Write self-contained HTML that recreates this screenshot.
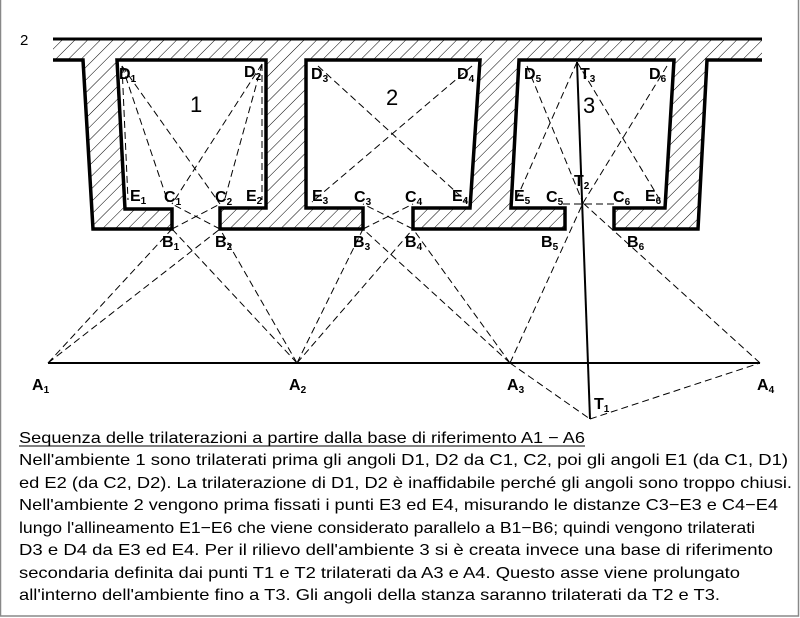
<!DOCTYPE html>
<html><head><meta charset="utf-8"><style>
html,body{margin:0;padding:0;background:#fff;}
svg{display:block;}
.lb{font-family:"Liberation Sans",sans-serif;font-weight:bold;font-size:16px;fill:#000;}
.sb{font-size:10px;}
.tx{font-family:"Liberation Sans",sans-serif;font-size:16px;fill:#000;}
</style></head><body>
<svg width="800" height="618" viewBox="0 0 800 618" xmlns="http://www.w3.org/2000/svg">
<defs>
<pattern id="h" patternUnits="userSpaceOnUse" width="9" height="9" patternTransform="rotate(45)">
<line x1="0" y1="0" x2="0" y2="9" stroke="#000" stroke-width="1"/>
</pattern>
</defs>
<rect x="0.5" y="-2" width="798" height="618" fill="none" stroke="#888" stroke-width="1.5"/>
<text x="20" y="45" class="tx" style="font-size:15px">2</text>
<path d="M53,39 L762,39 L762,60 L707,60 L698,229 L614,229 L614,208 L665,208 L674,60 L519,60 L511,208 L565,208 L565,229 L413,229 L413,208 L470,208 L480,60 L306,60 L306,208 L363,208 L363,229 L220,229 L220,208 L266,208 L266,60 L117,60 L125,209 L172,209 L172,229 L93,229 L83,60 L53,60 Z" fill="url(#h)" stroke="none"/>
<line x1="53" y1="39" x2="762" y2="39" stroke="#000" stroke-width="3"/>
<polyline points="762,60 707,60 698,229 614,229 614,208 665,208 674,60 519,60 511,208 565,208 565,229 413,229 413,208 470,208 480,60 306,60 306,208 363,208 363,229 220,229 220,208 266,208 266,60 117,60 125,209 172,209 172,229 93,229 83,60 53,60" fill="none" stroke="#000" stroke-width="3.5" stroke-linejoin="miter"/>
<g stroke="#000" stroke-width="1" stroke-dasharray="7,4" fill="none">
<line x1="48" y1="363" x2="172" y2="229"/>
<line x1="48" y1="363" x2="220" y2="229"/>
<line x1="297" y1="363" x2="172" y2="229"/>
<line x1="297" y1="363" x2="220" y2="229"/>
<line x1="297" y1="363" x2="363" y2="229"/>
<line x1="297" y1="363" x2="413" y2="229"/>
<line x1="510" y1="363" x2="363" y2="229"/>
<line x1="510" y1="363" x2="413" y2="229"/>
<line x1="510" y1="363" x2="583" y2="203"/>
<line x1="510" y1="363" x2="590" y2="419"/>
<line x1="590" y1="419" x2="760" y2="363"/>
<line x1="760" y1="363" x2="583" y2="203"/>
<line x1="172" y1="229" x2="220" y2="204"/>
<line x1="220" y1="229" x2="172" y2="204"/>
<line x1="363" y1="229" x2="413" y2="204"/>
<line x1="413" y1="229" x2="363" y2="204"/>
<line x1="563" y1="204" x2="615" y2="204"/>
<line x1="122" y1="66" x2="128" y2="200"/>
<line x1="122" y1="66" x2="168" y2="202"/>
<line x1="122" y1="66" x2="220" y2="204"/>
<line x1="262" y1="64" x2="172" y2="204"/>
<line x1="262" y1="64" x2="224" y2="202"/>
<line x1="262" y1="64" x2="262" y2="200"/>
<line x1="318" y1="66" x2="467" y2="202"/>
<line x1="472" y1="66" x2="312" y2="202"/>
<line x1="527" y1="66" x2="583" y2="203"/>
<line x1="577" y1="62" x2="516" y2="200"/>
<line x1="577" y1="62" x2="660" y2="200"/>
<line x1="667" y1="66" x2="583" y2="203"/>
</g>
<line x1="48" y1="363" x2="760" y2="363" stroke="#000" stroke-width="2"/>
<line x1="577" y1="62" x2="590" y2="419" stroke="#000" stroke-width="2"/>
<text x="190" y="112" class="tx" style="font-size:22px">1</text>
<text x="386" y="105" class="tx" style="font-size:22px">2</text>
<text x="583" y="113" class="tx" style="font-size:22px">3</text>
<g class="lb">
<text x="119" y="79">D<tspan class="sb" dy="3">1</tspan></text>
<text x="244" y="77">D<tspan class="sb" dy="3">2</tspan></text>
<text x="311" y="79">D<tspan class="sb" dy="3">3</tspan></text>
<text x="457" y="79">D<tspan class="sb" dy="3">4</tspan></text>
<text x="524" y="79">D<tspan class="sb" dy="3">5</tspan></text>
<text x="580" y="79">T<tspan class="sb" dy="3">3</tspan></text>
<text x="649" y="79">D<tspan class="sb" dy="3">6</tspan></text>
<text x="130" y="201">E<tspan class="sb" dy="3">1</tspan></text>
<text x="164" y="202">C<tspan class="sb" dy="3">1</tspan></text>
<text x="215" y="202">C<tspan class="sb" dy="3">2</tspan></text>
<text x="246" y="201">E<tspan class="sb" dy="3">2</tspan></text>
<text x="312" y="201">E<tspan class="sb" dy="3">3</tspan></text>
<text x="354" y="202">C<tspan class="sb" dy="3">3</tspan></text>
<text x="405" y="202">C<tspan class="sb" dy="3">4</tspan></text>
<text x="452" y="201">E<tspan class="sb" dy="3">4</tspan></text>
<text x="514" y="201">E<tspan class="sb" dy="3">5</tspan></text>
<text x="546" y="202">C<tspan class="sb" dy="3">5</tspan></text>
<text x="574" y="186">T<tspan class="sb" dy="3">2</tspan></text>
<text x="613" y="202">C<tspan class="sb" dy="3">6</tspan></text>
<text x="645" y="201">E<tspan class="sb" dy="3">6</tspan></text>
<text x="162" y="247">B<tspan class="sb" dy="3">1</tspan></text>
<text x="215" y="247">B<tspan class="sb" dy="3">2</tspan></text>
<text x="353" y="247">B<tspan class="sb" dy="3">3</tspan></text>
<text x="405" y="247">B<tspan class="sb" dy="3">4</tspan></text>
<text x="541" y="247">B<tspan class="sb" dy="3">5</tspan></text>
<text x="627" y="247">B<tspan class="sb" dy="3">6</tspan></text>
<text x="32" y="390">A<tspan class="sb" dy="3">1</tspan></text>
<text x="289" y="390">A<tspan class="sb" dy="3">2</tspan></text>
<text x="507" y="390">A<tspan class="sb" dy="3">3</tspan></text>
<text x="757" y="390">A<tspan class="sb" dy="3">4</tspan></text>
<text x="594" y="409">T<tspan class="sb" dy="3">1</tspan></text>
</g>
<g class="tx">
<text x="19" y="443" textLength="566" lengthAdjust="spacingAndGlyphs">Sequenza delle trilaterazioni a partire dalla base di riferimento A1 − A6</text>
<line x1="19" y1="446" x2="585" y2="446" stroke="#000" stroke-width="1"/>
<text x="19" y="465" textLength="769" lengthAdjust="spacingAndGlyphs">Nell'ambiente 1 sono trilaterati prima gli angoli D1, D2 da C1, C2, poi gli angoli E1 (da C1, D1)</text>
<text x="19" y="488" textLength="773" lengthAdjust="spacingAndGlyphs">ed E2 (da C2, D2). La trilaterazione di D1, D2 è inaffidabile perché gli angoli sono troppo chiusi.</text>
<text x="19" y="510" textLength="759" lengthAdjust="spacingAndGlyphs">Nell'ambiente 2 vengono prima fissati i punti E3 ed E4, misurando le distanze C3−E3 e C4−E4</text>
<text x="19" y="533" textLength="736" lengthAdjust="spacingAndGlyphs">lungo l'allineamento E1−E6 che viene considerato parallelo a B1−B6; quindi vengono trilaterati</text>
<text x="19" y="555" textLength="754" lengthAdjust="spacingAndGlyphs">D3 e D4 da E3 ed E4. Per il rilievo dell'ambiente 3 si è creata invece una base di riferimento</text>
<text x="19" y="578" textLength="721" lengthAdjust="spacingAndGlyphs">secondaria definita dai punti T1 e T2 trilaterati da A3 e A4. Questo asse viene prolungato</text>
<text x="19" y="600" textLength="701" lengthAdjust="spacingAndGlyphs">all'interno dell'ambiente fino a T3. Gli angoli della stanza saranno trilaterati da T2 e T3.</text>
</g>
</svg>
</body></html>
